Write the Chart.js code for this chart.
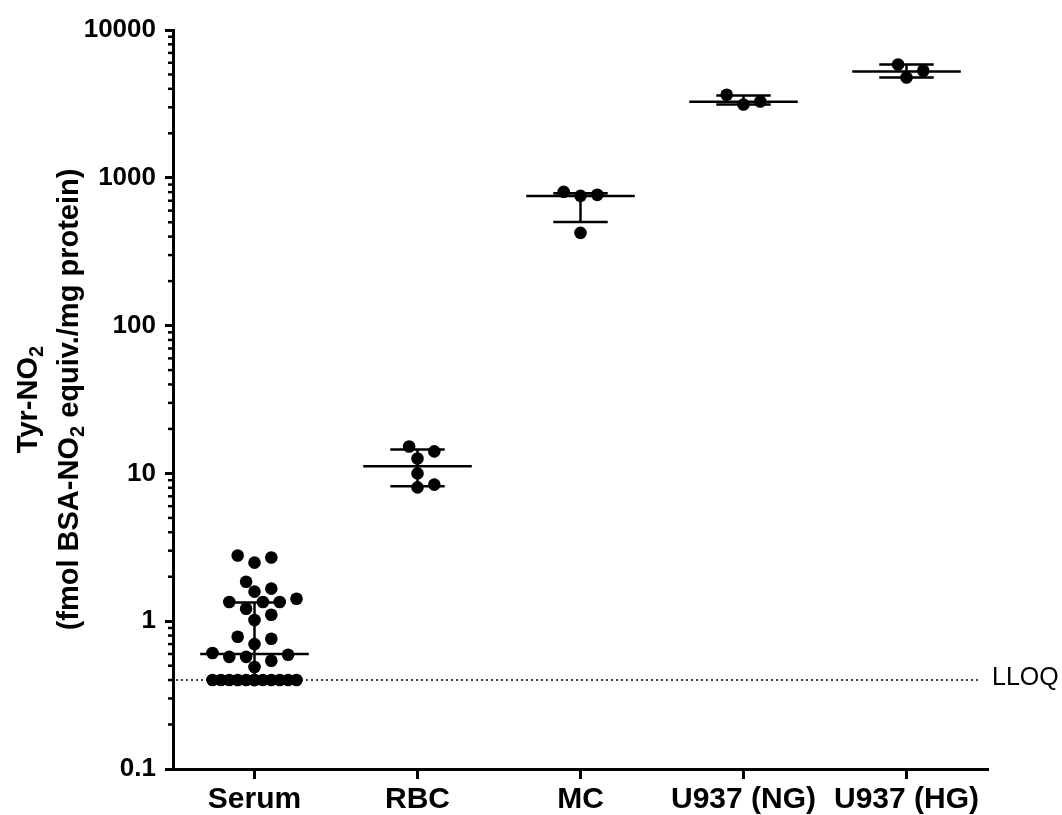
<!DOCTYPE html>
<html>
<head>
<meta charset="utf-8">
<script src="https://cdn.jsdelivr.net/npm/chart.js@4.4.1/dist/chart.umd.min.js"></script>
<style>
  html, body { margin: 0; padding: 0; background: #fff; }
  #wrap { width: 1062px; height: 815px; position: relative; }
</style>
</head>
<body>
<div id="wrap"><canvas id="tyrChart"></canvas></div>
<script>
const categories = ["Serum", "RBC", "MC", "U937 (NG)", "U937 (HG)"];
const serum = [2.78, 2.70, 2.49, 1.85, 1.66, 1.585, 1.42, 1.35, 1.35, 1.35, 1.215, 1.107, 1.02,
  0.785, 0.76, 0.70, 0.61, 0.593, 0.574, 0.574, 0.54, 0.49,
  0.4, 0.4, 0.4, 0.4, 0.4, 0.4, 0.4, 0.4, 0.4, 0.4, 0.4, 0.4];
const rbc = [14.1, 15.2, 12.6, 10.0, 8.04, 8.4];
const mc = [767, 755, 803, 424];
const u937NG = [3650, 3130, 3280];
const u937HG = [5840, 4770, 5300];
const medians = [0.6, 11.2, 752, 3270, 5230];
const q1 = [0.4, 8.2, 503, 3130, 4770];
const q3 = [1.34, 14.5, 785, 3600, 5840];
const lloq = 0.4;
const yTicks = [0.1, 1, 10, 100, 1000, 10000];

const groups = [serum, rbc, mc, u937NG, u937HG];
const FONT = "'Liberation Sans', Arial, Helvetica, sans-serif";

// short minor ticks between the decades
const minorTicks = {
  id: "minorTicks",
  afterDraw(chart) {
    const { ctx, chartArea, scales: { y } } = chart;
    ctx.save();
    ctx.strokeStyle = "#000";
    ctx.lineWidth = 2.5;
    for (let d = 0; d < yTicks.length - 1; d++) {
      for (let m = 2; m <= 9; m++) {
        const py = y.getPixelForValue(yTicks[d] * m);
        ctx.beginPath();
        ctx.moveTo(chartArea.left - 5, py);
        ctx.lineTo(chartArea.left, py);
        ctx.stroke();
      }
    }
    ctx.restore();
  }
};

// median line with interquartile error bars
const medianBars = {
  id: "medianBars",
  afterDatasetsDraw(chart) {
    const { ctx, scales: { x, y } } = chart;
    ctx.save();
    ctx.strokeStyle = "#000";
    ctx.lineWidth = 2.5;
    categories.forEach((c, i) => {
      const cx = x.getPixelForValue(i);
      const wide = x.getPixelForValue(i + 0.333) - cx;
      const cap = x.getPixelForValue(i + 0.167) - cx;
      const pm = y.getPixelForValue(medians[i]);
      const pl = y.getPixelForValue(q1[i]);
      const ph = y.getPixelForValue(q3[i]);
      ctx.beginPath();
      ctx.moveTo(cx - wide, pm); ctx.lineTo(cx + wide, pm);
      ctx.moveTo(cx, pl); ctx.lineTo(cx, ph);
      ctx.moveTo(cx - cap, pl); ctx.lineTo(cx + cap, pl);
      ctx.moveTo(cx - cap, ph); ctx.lineTo(cx + cap, ph);
      ctx.stroke();
    });
    ctx.restore();
  }
};

const lloqLine = {
  id: "lloqLine",
  afterDraw(chart) {
    const { ctx, chartArea, scales: { x, y } } = chart;
    const py = y.getPixelForValue(lloq);
    ctx.save();
    ctx.strokeStyle = "#000";
    ctx.lineWidth = 1.5;
    ctx.setLineDash([2, 3]);
    ctx.beginPath();
    ctx.moveTo(chartArea.left + 3, py);
    ctx.lineTo(x.getPixelForValue(4.45), py);
    ctx.stroke();
    ctx.setLineDash([]);
    ctx.fillStyle = "#000";
    ctx.font = "25px " + FONT;
    ctx.textBaseline = "middle";
    ctx.fillText("LLOQ", chartArea.right + 4, py - 2);
    ctx.restore();
  }
};

// rotated y title with real subscripts
function drawRich(ctx, parts, cx, cy, size) {
  const big = "bold " + size + "px " + FONT;
  const small = "bold " + Math.round(size * 0.68) + "px " + FONT;
  let total = 0;
  parts.forEach(p => { ctx.font = p[1] ? small : big; total += ctx.measureText(p[0]).width; });
  ctx.save();
  ctx.translate(cx, cy);
  ctx.rotate(-Math.PI / 2);
  let px = -total / 2;
  parts.forEach(p => {
    ctx.font = p[1] ? small : big;
    ctx.fillText(p[0], px, p[1] ? size * 0.28 : 0);
    px += ctx.measureText(p[0]).width;
  });
  ctx.restore();
}

const yTitle = {
  id: "yTitle",
  afterDraw(chart) {
    const { ctx, chartArea } = chart;
    const cy = (chartArea.top + chartArea.bottom) / 2;
    ctx.save();
    ctx.fillStyle = "#000";
    ctx.textBaseline = "middle";
    drawRich(ctx, [["Tyr-NO", false], ["2", true]], 29, cy, 29);
    drawRich(ctx, [["(fmol BSA-NO", false], ["2", true], [" equiv./mg protein)", false]], 70, cy, 29);
    ctx.restore();
  }
};

const ctx = document.getElementById("tyrChart").getContext("2d");
const tyrChart = new Chart(ctx, {
  type: "scatter",
  data: {
    datasets: groups.map((vals, i) => ({
      label: categories[i],
      data: vals.map(v => ({ x: i, y: v })),
      backgroundColor: "#000",
      borderWidth: 0,
      pointRadius: 6.3,
      pointHoverRadius: 6.3,
    })),
  },
  options: {
    responsive: true,
    maintainAspectRatio: false,
    animation: false,
    events: [],
    layout: { padding: { top: 30, right: 74, left: 0, bottom: 0 } },
    plugins: {
      legend: { display: false },
      tooltip: { enabled: false },
    },
    scales: {
      x: {
        type: "linear",
        min: -0.5,
        max: 4.5,
        afterBuildTicks: (scale) => { scale.ticks = categories.map((c, i) => ({ value: i })); },
        afterFit: (scale) => { scale.height = 46; },
        ticks: {
          callback: (v) => categories[v],
          color: "#000",
          padding: 3,
          autoSkip: false,
          maxRotation: 0,
          font: { family: FONT, size: 30, weight: "bold" },
        },
        grid: { drawOnChartArea: false, tickLength: 10, tickWidth: 3, tickColor: "#000" },
        border: { color: "#000", width: 3 },
      },
      y: {
        type: "logarithmic",
        min: 0.1,
        max: 10000,
        afterBuildTicks: (scale) => { scale.ticks = yTicks.map(v => ({ value: v })); },
        afterFit: (scale) => { scale.width = 173; },
        ticks: {
          callback: (v) => String(v),
          color: "#000",
          padding: 9,
          font: { family: FONT, size: 26, weight: "bold" },
        },
        grid: { drawOnChartArea: false, tickLength: 8, tickWidth: 3, tickColor: "#000" },
        border: { color: "#000", width: 3 },
      },
    },
  },
  plugins: [minorTicks, medianBars, lloqLine, yTitle],
});

// spread points sideways (column scatter) using the chart's own scales
function swarm(values, idx) {
  const xs = tyrChart.scales.x, ys = tyrChart.scales.y;
  const unit = xs.getPixelForValue(1) - xs.getPixelForValue(0);
  const step = 8.4, minDist = 13, maxOff = 48;
  const cands = [0];
  for (let k = 1; k * step <= maxOff; k++) cands.push(k * step, -k * step);
  const placed = [];
  const out = [];
  const order = values.map((v, i) => i).sort((a, b) => values[a] - values[b]);
  order.forEach(i => {
    const py = ys.getPixelForValue(values[i]);
    let best = 0, bestD = -1;
    for (const c of cands) {
      let d = Infinity;
      placed.forEach(p => { d = Math.min(d, Math.hypot(p.x - c, p.y - py)); });
      if (d >= minDist) { best = c; break; }
      if (d > bestD) { best = c; bestD = d; }
    }
    placed.push({ x: best, y: py });
    out[i] = { x: idx + best / unit, y: values[i] };
  });
  return out;
}

groups.forEach((vals, i) => { tyrChart.data.datasets[i].data = swarm(vals, i); });
tyrChart.update("none");
</script>
</body>
</html>
